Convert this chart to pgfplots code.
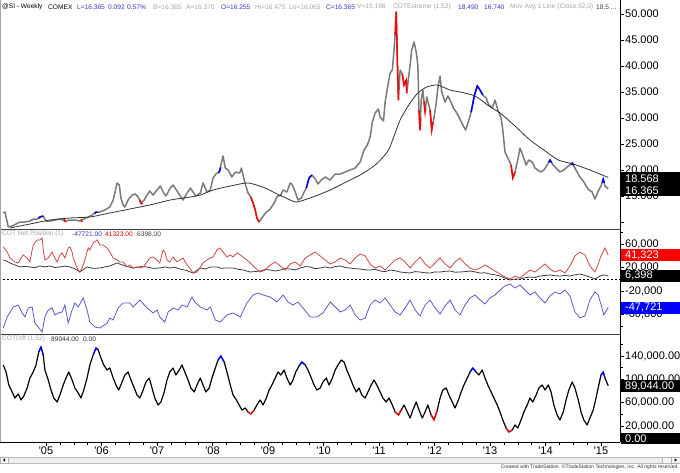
\documentclass[border=0pt]{standalone}
\usepackage{pgfplots}
\pgfplotsset{compat=1.18}
\usepackage{fontspec}
\setmainfont{Liberation Sans}
\definecolor{pricegray}{RGB}{122,122,122}
\definecolor{cotred}{RGB}{205,70,70}
\definecolor{cotblue}{RGB}{90,90,205}
\definecolor{cotblack}{RGB}{60,60,60}
\definecolor{hdrblue}{RGB}{50,50,205}
\definecolor{hdrgray}{RGB}{165,165,165}
\newcommand\hdr{\fontsize{6.6}{7}\selectfont}
\newcommand\lbl{\fontsize{11}{12}\selectfont}
\newcommand\yr[1]{\textquotesingle#1}
\pgfplotsset{
  panel/.style={
    scale only axis, width=617pt, xmin=2004.225, xmax=2015.342,
    axis y line*=right, enlargelimits=false,
    scaled y ticks=false, scaled x ticks=false,
    tick align=outside, major tick length=4pt, minor tick length=3pt,
    every tick/.style={black, line width=0.5pt},
    axis line style={black, line width=0.8pt},
    yticklabel style={font=\lbl, anchor=west, inner sep=1pt, text=black},
  }
}
\begin{document}
\begin{tikzpicture}[x=1pt,y=1pt]
\path[use as bounding box] (0,0) rectangle (680,472);

% ---------------- price panel ----------------
\begin{axis}[panel, hide x axis, at={(3pt,243pt)}, anchor=south west, height=229pt,
  ymin=8.654, ymax=52.692,
  ytick={15,20,25,30,35,40,45,50},
  yticklabels={15.000,20.000,25.000,30.000,35.000,40.000,45.000,50.000},
  extra y ticks={10}, extra y tick labels={}]
\addplot[pricegray, line width=1.5pt, line join=round] coordinates {
(2004.23,11.73)(2004.26,11.92)(2004.32,9.04)(2004.39,9.23)(2004.46,9.61)(2004.53,10.00)(2004.62,10.00)(2004.71,10.19)(2004.78,10.57)(2004.84,10.57)(2004.89,10.96)(2004.95,11.15)(2005.00,10.19)(2005.07,10.19)(2005.16,10.38)(2005.25,10.57)(2005.34,10.19)(2005.43,10.38)(2005.52,10.38)(2005.61,10.19)(2005.68,10.57)(2005.76,10.96)(2005.83,11.34)(2005.90,11.92)(2005.97,11.92)(2006.06,12.31)(2006.15,12.88)(2006.21,14.23)(2006.24,15.57)(2006.28,17.50)(2006.32,17.11)(2006.35,14.61)(2006.39,13.27)(2006.42,12.88)(2006.48,14.23)(2006.55,15.19)(2006.61,15.38)(2006.66,14.81)(2006.71,13.65)(2006.77,14.23)(2006.82,15.19)(2006.87,15.96)(2006.93,15.19)(2007.00,16.15)(2007.06,16.92)(2007.11,15.77)(2007.16,15.00)(2007.24,16.54)(2007.29,17.11)(2007.35,16.15)(2007.42,15.00)(2007.47,14.23)(2007.53,15.38)(2007.60,16.54)(2007.65,15.77)(2007.70,15.00)(2007.78,15.57)(2007.83,17.50)(2007.90,15.77)(2007.96,16.15)(2008.01,18.46)(2008.06,19.23)(2008.12,19.61)(2008.19,22.69)(2008.23,20.38)(2008.28,20.00)(2008.35,18.65)(2008.41,19.61)(2008.49,19.42)(2008.52,20.38)(2008.58,17.69)(2008.64,15.57)(2008.69,14.81)(2008.73,13.65)(2008.77,12.31)(2008.80,10.77)(2008.84,10.00)(2008.90,10.96)(2008.97,11.92)(2009.04,12.50)(2009.11,13.65)(2009.17,15.00)(2009.22,15.00)(2009.27,16.15)(2009.34,15.77)(2009.40,17.50)(2009.43,17.31)(2009.49,15.77)(2009.54,14.23)(2009.60,14.61)(2009.65,15.77)(2009.69,16.54)(2009.74,18.46)(2009.79,19.04)(2009.85,18.27)(2009.90,17.31)(2009.96,18.07)(2010.03,18.65)(2010.12,18.07)(2010.21,19.23)(2010.30,19.23)(2010.39,19.61)(2010.48,20.00)(2010.57,20.38)(2010.66,21.54)(2010.73,23.84)(2010.79,24.81)(2010.84,26.34)(2010.88,29.23)(2010.93,30.96)(2010.99,31.73)(2011.02,30.19)(2011.08,29.42)(2011.11,33.07)(2011.17,36.92)(2011.20,38.65)(2011.24,39.23)(2011.27,43.07)(2011.29,45.96)(2011.31,50.40)(2011.33,41.15)(2011.35,33.46)(2011.38,39.23)(2011.42,38.46)(2011.45,36.34)(2011.49,37.31)(2011.50,34.81)(2011.56,40.19)(2011.59,43.07)(2011.63,44.61)(2011.67,42.69)(2011.70,40.19)(2011.72,31.54)(2011.74,27.69)(2011.76,33.46)(2011.79,35.38)(2011.83,31.15)(2011.86,34.04)(2011.92,31.54)(2011.95,27.69)(2011.99,30.00)(2012.03,32.88)(2012.06,35.77)(2012.10,38.07)(2012.13,35.00)(2012.19,33.07)(2012.24,34.23)(2012.28,33.46)(2012.34,31.92)(2012.39,31.15)(2012.45,30.00)(2012.50,28.84)(2012.56,27.69)(2012.61,29.23)(2012.66,31.15)(2012.72,34.42)(2012.77,36.15)(2012.82,35.38)(2012.87,34.42)(2012.93,33.84)(2012.98,32.50)(2013.04,31.92)(2013.09,33.46)(2013.14,31.54)(2013.20,30.00)(2013.23,27.69)(2013.27,23.46)(2013.32,22.31)(2013.38,20.96)(2013.41,18.46)(2013.45,19.61)(2013.50,21.92)(2013.54,24.23)(2013.59,22.88)(2013.65,20.96)(2013.70,21.92)(2013.76,21.54)(2013.81,20.38)(2013.86,20.00)(2013.92,19.61)(2013.97,20.00)(2014.03,20.96)(2014.08,21.92)(2014.14,20.96)(2014.19,20.38)(2014.26,19.61)(2014.33,20.00)(2014.41,20.77)(2014.48,21.34)(2014.55,20.00)(2014.62,18.65)(2014.68,17.88)(2014.73,16.92)(2014.78,16.15)(2014.84,15.77)(2014.89,14.42)(2014.95,15.96)(2015.00,16.92)(2015.04,18.27)(2015.07,16.92)(2015.13,16.37)};
% red extreme bars
\addplot[red, line width=1.5pt] coordinates {(2005.32,10.8)(2005.34,10.19)(2005.36,10.0)};
\addplot[red, line width=1.5pt] coordinates {(2005.63,10.5)(2005.65,10.0)};
\addplot[red, line width=1.5pt] coordinates {(2006.69,14.3)(2006.71,13.65)(2006.74,13.4)};
\addplot[red, line width=1.5pt] coordinates {(2008.69,14.81)(2008.73,13.65)(2008.77,12.31)(2008.80,10.77)(2008.84,10.00)};
\addplot[red, line width=1.5pt] coordinates {(2011.29,45.96)(2011.31,50.40)(2011.33,41.15)(2011.35,33.46)};
\addplot[red, line width=1.5pt] coordinates {(2011.42,38.46)(2011.45,36.34)(2011.49,37.31)(2011.50,34.81)};
\addplot[red, line width=1.5pt] coordinates {(2011.72,31.54)(2011.74,27.69)(2011.75,30.0)};
\addplot[red, line width=1.5pt] coordinates {(2011.81,33.2)(2011.83,31.15)(2011.84,32.0)};
\addplot[red, line width=1.5pt] coordinates {(2011.92,31.54)(2011.95,27.69)(2011.97,29.2)};
\addplot[red, line width=1.5pt] coordinates {(2013.38,20.96)(2013.41,18.46)(2013.45,19.61)};
% blue extreme bars
\addplot[blue, line width=1.5pt] coordinates {(2004.87,10.7)(2004.89,10.96)(2004.95,11.15)};
\addplot[blue, line width=1.5pt] coordinates {(2005.88,11.6)(2005.90,11.92)(2005.93,11.9)};
\addplot[blue, line width=1.5pt] coordinates {(2008.10,19.5)(2008.12,19.61)(2008.15,20.5)};
\addplot[blue, line width=1.5pt] coordinates {(2009.69,16.54)(2009.74,18.46)(2009.79,19.04)};
\addplot[blue, line width=1.5pt] coordinates {(2012.66,31.15)(2012.72,34.42)(2012.77,36.15)(2012.82,35.38)(2012.87,34.42)};
\addplot[blue, line width=1.5pt] coordinates {(2014.06,21.5)(2014.08,21.92)(2014.11,21.4)};
\addplot[blue, line width=1.5pt] coordinates {(2014.46,21.0)(2014.48,21.34)(2014.51,20.9)};
\addplot[blue, line width=1.5pt] coordinates {(2015.02,17.6)(2015.04,18.27)(2015.06,17.5)};
% 52-week moving average
\addplot[black!80, line width=0.8pt, smooth, tension=0.4] coordinates {
(2004.35,8.84)(2004.71,9.61)(2005.07,10.38)(2005.43,10.77)(2005.79,10.96)(2006.15,11.73)(2006.51,12.50)(2006.87,13.27)(2007.24,14.23)(2007.60,14.81)(2007.78,15.19)(2008.01,16.15)(2008.32,16.92)(2008.64,17.50)(2008.95,16.54)(2009.13,15.57)(2009.40,14.23)(2009.52,13.84)(2009.81,14.81)(2010.12,16.15)(2010.48,18.07)(2010.66,19.04)(2010.93,20.96)(2011.17,23.84)(2011.38,29.61)(2011.56,32.88)(2011.70,34.81)(2011.86,35.96)(2012.05,36.34)(2012.28,35.38)(2012.46,35.00)(2012.73,34.23)(2012.98,32.31)(2013.18,30.96)(2013.45,28.46)(2013.72,25.77)(2013.97,23.84)(2014.23,21.92)(2014.50,21.15)(2014.80,20.00)(2015.13,18.57)};
\end{axis}

% ---------------- COT net position panel ----------------
\begin{axis}[panel, hide x axis, at={(3pt,138pt)}, anchor=south west, height=105pt,
  ymin=-93180, ymax=85530,
  ytick={-60000,-20000,20000,60000},
  yticklabels={{-60,000},{-20,000},{20,000},{60,000}},
  minor ytick={-80000,-40000,0,40000,80000}]
\addplot[black, line width=0.6pt, dash pattern=on 2pt off 2pt] coordinates {(2004.225,0)(2015.342,0)};
\addplot[cotblack, line width=0.8pt] coordinates {
(2004.23,32800)(2004.28,31100)(2004.35,27700)(2004.44,24300)(2004.53,20900)(2004.62,22000)(2004.71,20900)(2004.80,19500)(2004.89,22600)(2004.98,21000)(2005.07,22600)(2005.16,20000)(2005.25,20900)(2005.34,22500)(2005.43,20900)(2005.52,18000)(2005.61,12300)(2005.74,20900)(2005.85,18500)(2005.97,19100)(2006.06,21000)(2006.15,22600)(2006.28,27700)(2006.42,22600)(2006.57,19100)(2006.70,21500)(2006.82,20900)(2006.93,18500)(2007.05,19100)(2007.14,21000)(2007.23,19100)(2007.32,20500)(2007.41,17400)(2007.53,15000)(2007.65,10600)(2007.78,19100)(2007.87,17500)(2007.96,20900)(2008.08,20900)(2008.16,18500)(2008.23,19100)(2008.37,19100)(2008.46,17000)(2008.55,15700)(2008.68,12300)(2008.86,14000)(2008.95,16500)(2009.04,15700)(2009.13,14000)(2009.22,15700)(2009.31,18000)(2009.40,17400)(2009.49,16000)(2009.58,19100)(2009.67,21500)(2009.76,20900)(2009.85,18000)(2009.94,19100)(2010.03,21000)(2010.12,19100)(2010.21,21500)(2010.30,22600)(2010.39,20000)(2010.48,19100)(2010.57,18000)(2010.66,17400)(2010.75,16000)(2010.84,15700)(2010.93,17000)(2011.02,14000)(2011.11,13000)(2011.20,15700)(2011.29,14500)(2011.38,12300)(2011.47,11500)(2011.56,10600)(2011.65,13000)(2011.74,12300)(2011.83,11000)(2011.92,10600)(2012.01,12500)(2012.10,12300)(2012.19,13500)(2012.28,14000)(2012.37,12000)(2012.46,12300)(2012.55,13000)(2012.64,14000)(2012.73,12500)(2012.82,10600)(2012.91,11000)(2013.00,8900)(2013.09,7500)(2013.18,5500)(2013.27,2100)(2013.36,-1300)(2013.45,400)(2013.54,400)(2013.63,2500)(2013.72,3800)(2013.81,3000)(2013.90,5500)(2013.99,6500)(2014.08,7200)(2014.17,6000)(2014.26,5500)(2014.35,6500)(2014.44,5500)(2014.53,7500)(2014.62,8900)(2014.71,6500)(2014.80,3800)(2014.89,400)(2014.98,5500)(2015.04,7200)(2015.13,6398)};
\addplot[cotred, line width=0.8pt] coordinates {
(2004.23,54900)(2004.30,46400)(2004.35,36200)(2004.44,29400)(2004.50,27700)(2004.55,36200)(2004.59,41300)(2004.66,36200)(2004.71,29400)(2004.75,49800)(2004.77,58300)(2004.84,66800)(2004.89,66800)(2004.93,70200)(2004.95,49800)(2004.98,32800)(2005.04,36200)(2005.11,46400)(2005.13,41300)(2005.20,29400)(2005.25,41300)(2005.29,44700)(2005.34,36200)(2005.40,53200)(2005.43,54900)(2005.47,46400)(2005.49,36200)(2005.56,19100)(2005.61,12300)(2005.65,19100)(2005.70,32800)(2005.76,53200)(2005.79,49800)(2005.85,61700)(2005.92,66800)(2005.97,58300)(2006.03,58300)(2006.10,53200)(2006.15,46400)(2006.21,36200)(2006.28,32800)(2006.33,29400)(2006.39,29400)(2006.46,20900)(2006.51,24300)(2006.57,19100)(2006.64,20900)(2006.69,19100)(2006.75,20900)(2006.82,29400)(2006.87,36200)(2006.93,37900)(2007.00,32800)(2007.05,27700)(2007.11,49800)(2007.14,46400)(2007.18,32800)(2007.23,29400)(2007.29,37900)(2007.36,29400)(2007.41,32800)(2007.47,36200)(2007.54,24300)(2007.59,19100)(2007.65,10600)(2007.72,12300)(2007.78,20900)(2007.83,27700)(2007.90,32800)(2007.96,36200)(2008.01,37900)(2008.08,49800)(2008.14,53200)(2008.19,46400)(2008.26,37900)(2008.32,41300)(2008.37,37900)(2008.44,44700)(2008.50,41300)(2008.55,37900)(2008.62,32800)(2008.68,27700)(2008.77,19100)(2008.86,12300)(2008.95,15700)(2009.04,24300)(2009.13,29400)(2009.22,22600)(2009.31,15700)(2009.40,26000)(2009.49,29400)(2009.58,22600)(2009.67,36200)(2009.76,41300)(2009.85,46400)(2009.94,39600)(2010.03,32800)(2010.12,26000)(2010.21,29400)(2010.30,36200)(2010.39,32800)(2010.48,26000)(2010.57,36200)(2010.66,43000)(2010.75,39600)(2010.84,26000)(2010.93,19100)(2011.02,22600)(2011.11,15700)(2011.20,24300)(2011.29,32800)(2011.38,36200)(2011.47,29400)(2011.56,19100)(2011.65,29400)(2011.74,37900)(2011.83,26000)(2011.92,19100)(2012.01,27700)(2012.10,36200)(2012.19,26000)(2012.28,19100)(2012.37,29400)(2012.46,36200)(2012.55,26000)(2012.64,19100)(2012.73,15700)(2012.82,19100)(2012.91,24300)(2013.00,19100)(2013.09,14000)(2013.18,8900)(2013.27,3800)(2013.36,400)(2013.45,5500)(2013.54,2100)(2013.63,8900)(2013.72,15700)(2013.81,12300)(2013.90,19100)(2013.99,26000)(2014.08,17400)(2014.17,12300)(2014.26,15700)(2014.35,10600)(2014.44,22600)(2014.53,39600)(2014.62,46400)(2014.71,41300)(2014.80,22600)(2014.89,12300)(2014.95,26000)(2015.00,39600)(2015.07,53200)(2015.13,41323)};
\addplot[cotblue, line width=0.8pt] coordinates {
(2004.23,-83000)(2004.30,-64200)(2004.41,-47200)(2004.50,-43800)(2004.57,-57400)(2004.62,-64200)(2004.68,-48900)(2004.75,-47200)(2004.80,-74500)(2004.86,-81300)(2004.93,-89800)(2004.98,-64200)(2005.04,-52300)(2005.11,-48900)(2005.16,-60800)(2005.22,-57400)(2005.29,-55700)(2005.34,-43800)(2005.40,-74500)(2005.47,-52300)(2005.52,-40400)(2005.58,-47200)(2005.67,-31900)(2005.74,-52300)(2005.79,-72800)(2005.88,-81300)(2005.97,-83000)(2006.10,-74500)(2006.15,-65900)(2006.21,-69400)(2006.30,-48900)(2006.39,-40400)(2006.51,-40400)(2006.57,-47200)(2006.69,-35300)(2006.82,-48900)(2006.93,-57400)(2007.00,-52300)(2007.05,-64200)(2007.14,-72800)(2007.20,-55700)(2007.29,-48900)(2007.38,-52300)(2007.45,-43800)(2007.54,-47200)(2007.63,-30200)(2007.68,-38700)(2007.78,-47200)(2007.90,-52300)(2007.96,-47200)(2008.05,-69400)(2008.14,-72800)(2008.26,-60800)(2008.37,-57400)(2008.50,-64200)(2008.62,-40400)(2008.73,-26800)(2008.82,-23400)(2008.91,-26800)(2009.04,-30200)(2009.16,-38700)(2009.27,-26800)(2009.36,-38700)(2009.45,-43800)(2009.54,-38700)(2009.63,-48900)(2009.76,-64200)(2009.88,-64200)(2009.99,-57400)(2010.12,-38700)(2010.21,-47200)(2010.30,-55700)(2010.39,-52300)(2010.48,-43800)(2010.57,-60800)(2010.66,-69400)(2010.75,-65900)(2010.84,-43800)(2010.93,-35300)(2011.02,-40400)(2011.11,-31900)(2011.20,-43800)(2011.29,-55700)(2011.38,-60800)(2011.47,-48900)(2011.56,-35300)(2011.65,-52300)(2011.74,-62500)(2011.83,-43800)(2011.92,-35300)(2012.01,-48900)(2012.10,-59100)(2012.19,-45500)(2012.28,-35300)(2012.37,-52300)(2012.46,-60800)(2012.55,-43800)(2012.64,-31900)(2012.73,-26800)(2012.82,-35300)(2012.91,-42100)(2013.00,-31900)(2013.09,-26800)(2013.18,-18300)(2013.27,-11500)(2013.36,-8100)(2013.45,-14900)(2013.54,-9800)(2013.63,-18300)(2013.72,-26800)(2013.81,-21700)(2013.90,-31900)(2013.99,-40400)(2014.08,-28500)(2014.17,-21700)(2014.26,-25100)(2014.35,-18300)(2014.44,-28500)(2014.53,-55700)(2014.62,-65900)(2014.71,-62500)(2014.80,-35300)(2014.89,-21700)(2014.95,-26800)(2015.02,-50000)(2015.05,-60800)(2015.13,-47721)};
\end{axis}

% ---------------- COTDiff panel ----------------
\begin{axis}[panel, at={(3pt,30pt)}, anchor=south west, height=108pt,
  ymin=-7430, ymax=177710,
  axis x line*=bottom,
  ytick={20000,60000,100000,140000},
  yticklabels={{20,000.00},{60,000.00},{100,000.00},{140,000.00}},
  minor ytick={0,40000,80000,120000,160000},
  xtick={2005,2006,2007,2008,2009,2010,2011,2012,2013,2014,2015},
  xticklabels={\yr{05},\yr{06},\yr{07},\yr{08},\yr{09},\yr{10},\yr{11},\yr{12},\yr{13},\yr{14},\yr{15}},
  minor x tick num=3,
  major tick length=4pt, minor tick length=2.5pt,
  xticklabel style={font=\lbl, text=black, inner sep=1pt}]
\addplot[black, line width=1.2pt, line join=round] coordinates {
(2004.23,124600)(2004.28,112600)(2004.33,90300)(2004.39,78300)(2004.44,68000)(2004.50,74900)(2004.55,64600)(2004.60,71400)(2004.66,85100)(2004.71,102300)(2004.77,112600)(2004.82,124600)(2004.87,146900)(2004.91,155400)(2004.95,141700)(2004.98,116000)(2005.04,98900)(2005.09,81700)(2005.14,68000)(2005.20,61100)(2005.25,73100)(2005.31,90300)(2005.36,102300)(2005.41,112600)(2005.47,98900)(2005.52,85100)(2005.58,76600)(2005.63,68000)(2005.68,81700)(2005.74,102300)(2005.79,124600)(2005.85,141700)(2005.90,153700)(2005.94,150300)(2005.99,136600)(2006.04,124600)(2006.10,116000)(2006.15,119400)(2006.21,102300)(2006.26,90300)(2006.31,81700)(2006.37,95400)(2006.42,107400)(2006.48,112600)(2006.53,98900)(2006.59,85100)(2006.64,73100)(2006.69,68000)(2006.75,81700)(2006.80,95400)(2006.86,102300)(2006.91,85100)(2006.96,68000)(2007.02,56000)(2007.07,61100)(2007.13,78300)(2007.18,98900)(2007.23,112600)(2007.29,119400)(2007.34,107400)(2007.40,116000)(2007.45,124600)(2007.50,112600)(2007.56,98900)(2007.61,85100)(2007.67,78300)(2007.72,90300)(2007.78,102300)(2007.83,90300)(2007.88,78300)(2007.94,85100)(2007.99,102300)(2008.05,119400)(2008.10,133100)(2008.15,140000)(2008.21,129700)(2008.26,112600)(2008.32,90300)(2008.37,73100)(2008.43,64600)(2008.48,56000)(2008.53,47400)(2008.59,50900)(2008.64,44000)(2008.69,40600)(2008.75,47400)(2008.80,56000)(2008.86,64600)(2008.91,56000)(2008.97,68000)(2009.02,81700)(2009.07,90300)(2009.13,102300)(2009.18,112600)(2009.23,107400)(2009.29,116000)(2009.34,102300)(2009.40,90300)(2009.45,98900)(2009.50,112600)(2009.56,122900)(2009.61,129700)(2009.67,124600)(2009.72,116000)(2009.78,102300)(2009.83,90300)(2009.88,81700)(2009.94,85100)(2009.99,95400)(2010.05,102300)(2010.10,90300)(2010.16,102300)(2010.21,116000)(2010.26,124600)(2010.32,133100)(2010.37,129700)(2010.42,116000)(2010.48,102300)(2010.53,90300)(2010.59,78300)(2010.64,85100)(2010.69,73100)(2010.75,68000)(2010.80,78300)(2010.86,90300)(2010.91,98900)(2010.96,90300)(2011.02,78300)(2011.07,68000)(2011.13,61100)(2011.18,68000)(2011.24,56000)(2011.29,44000)(2011.35,38900)(2011.40,47400)(2011.45,56000)(2011.51,44000)(2011.56,33700)(2011.61,47400)(2011.67,61100)(2011.72,47400)(2011.78,33700)(2011.83,44000)(2011.88,56000)(2011.94,38900)(2011.99,30300)(2012.05,47400)(2012.10,68000)(2012.15,81700)(2012.21,85100)(2012.26,73100)(2012.32,61100)(2012.37,50900)(2012.43,64600)(2012.48,78300)(2012.53,90300)(2012.59,102300)(2012.64,112600)(2012.69,119400)(2012.75,112600)(2012.80,107400)(2012.86,116000)(2012.91,102300)(2012.96,90300)(2013.02,78300)(2013.07,68000)(2013.13,56000)(2013.18,44000)(2013.23,30300)(2013.29,16600)(2013.34,9700)(2013.40,13100)(2013.45,21700)(2013.50,16600)(2013.56,30300)(2013.61,44000)(2013.67,56000)(2013.72,68000)(2013.77,61100)(2013.83,73100)(2013.88,85100)(2013.94,90300)(2013.99,81700)(2014.05,90300)(2014.10,78300)(2014.15,56000)(2014.21,38900)(2014.26,30300)(2014.32,44000)(2014.37,64600)(2014.42,81700)(2014.48,95400)(2014.53,85100)(2014.59,64600)(2014.64,44000)(2014.69,30300)(2014.75,21700)(2014.80,33700)(2014.86,47400)(2014.91,68000)(2014.96,90300)(2015.00,107400)(2015.04,112600)(2015.07,102300)(2015.13,89044)};
\addplot[blue, line width=1.2pt] coordinates {(2004.87,146900)(2004.91,155400)(2004.95,141700)};
\addplot[blue, line width=1.2pt] coordinates {(2005.85,141700)(2005.90,153700)(2005.94,150300)};
\addplot[blue, line width=1.2pt] coordinates {(2008.10,133100)(2008.15,140000)(2008.21,129700)};
\addplot[blue, line width=1.2pt] coordinates {(2009.56,122900)(2009.61,129700)(2009.67,124600)};
\addplot[blue, line width=1.2pt] coordinates {(2012.64,112600)(2012.69,119400)(2012.75,112600)};
\addplot[blue, line width=1.2pt] coordinates {(2015.00,107400)(2015.04,112600)(2015.07,102300)};
\addplot[red, line width=1.2pt] coordinates {(2008.64,44000)(2008.69,40600)(2008.75,47400)};
\addplot[red, line width=1.2pt] coordinates {(2011.29,44000)(2011.35,38900)(2011.40,47400)};
\addplot[red, line width=1.2pt] coordinates {(2011.94,38900)(2011.99,30300)(2012.05,47400)};
\addplot[red, line width=1.2pt] coordinates {(2013.29,16600)(2013.34,9700)(2013.40,13100)};
\end{axis}

% ---------------- frame pieces ----------------
\draw[black!75, line width=0.8pt] (0,243) -- (620,243);
\draw[black!75, line width=0.8pt] (0,138) -- (620,138);
\draw[black, line width=0.8pt] (0,30) -- (620,30);
\draw[gray!70, line width=0.6pt] (0.5,30) -- (0.5,472);

% ---------------- value boxes ----------------
\fill[black] (621,275.5) rectangle (680,299.5);
\node[anchor=west, inner sep=0, font=\lbl, text=white] at (625,293.5) {18.568};
\node[anchor=west, inner sep=0, font=\lbl, text=white] at (625,281.5) {16.365};
\fill[red] (621,211) rectangle (680,223);
\node[anchor=west, inner sep=0, font=\lbl, text=white] at (625,217) {41,323};
\fill[black] (621,190.5) rectangle (680,202.5);
\node[anchor=west, inner sep=0, font=\lbl, text=white] at (625,196.5) {6,398};
\fill[blue] (621,158.5) rectangle (680,170.5);
\node[anchor=west, inner sep=0, font=\lbl, text=white] at (625,164.5) {-47,721};
\fill[black] (621,80) rectangle (680,92);
\node[anchor=west, inner sep=0, font=\lbl, text=white] at (625,86) {89,044.00};
\fill[black] (621,28) rectangle (680,39.5);
\node[anchor=west, inner sep=0, font=\lbl, text=white] at (625,33.7) {0.00};

% ---------------- header texts ----------------
\begin{scope}[every node/.style={anchor=west, inner sep=0, font=\hdr}]
\node[text=black] at (2,465) {@SI - Weekly};
\node[text=black] at (48,465) {COMEX};
\node[text=hdrblue] at (77,465) {L=16.365};
\node[text=hdrblue] at (108,465) {0.092};
\node[text=hdrblue] at (127,465) {0.57\%};
\node[text=hdrgray] at (153,465) {B=16.365};
\node[text=hdrgray] at (186,465) {A=16.370};
\node[text=hdrblue] at (221,465) {O=16.255};
\node[text=hdrgray] at (255,465) {Hi=16.475};
\node[text=hdrgray] at (289,465) {Lo=16.065};
\node[text=hdrblue] at (326,465) {C=16.365};
\node[text=hdrgray] at (357,465) {V=19,198};
\node[text=hdrgray] at (393,465) {COTExtreme (1,52)};
\node[text=hdrblue] at (458,465) {18.490};
\node[text=hdrblue] at (484,465) {16.740};
\node[text=hdrgray] at (510,465) {Mov Avg 1 Line (Close,52,0)};
\node[text=black!75] at (596,465) {18.5 ...};
\node[text=hdrgray] at (2,238) {COT Net Position (1)};
\node[text=hdrblue] at (72,238) {-47721.00};
\node[text=red!85!black] at (105,238) {41323.00};
\node[text=black!75] at (137,238) {6398.00};
\node[text=hdrgray] at (2,133) {COTDiff (1,52)};
\node[text=black!80] at (51,133) {89044.00};
\node[text=black!80] at (83,133) {0.00};
\end{scope}

% ---------------- scrollbar and credits ----------------
\fill[gray!13] (0,9) rectangle (680,15);
\draw[gray!55, line width=0.4pt] (0,9) rectangle (680,15);
\filldraw[fill=gray!6, draw=gray!60, line width=0.4pt] (0,9) rectangle (8,15);
\fill[black] (5.2,10.3) -- (5.2,13.7) -- (2.8,12) -- cycle;
\filldraw[fill=gray!6, draw=gray!60, line width=0.4pt] (662,9) rectangle (671,15);
\filldraw[fill=gray!6, draw=gray!60, line width=0.4pt] (671,9) rectangle (680,15);
\fill[black] (674.6,10.3) -- (674.6,13.7) -- (677,12) -- cycle;
\node[anchor=east, inner sep=0, font=\fontsize{5}{6}\selectfont, text=black!80] at (679,4.3) {Created with TradeStation. \textcopyright TradeStation Technologies, Inc. All rights reserved.};
\end{tikzpicture}
\end{document}
